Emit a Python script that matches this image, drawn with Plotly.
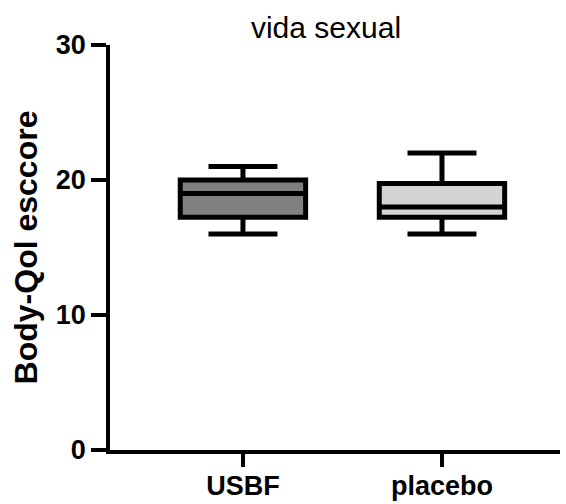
import plotly.graph_objects as go

categories = ["USBF", "placebo"]
lower_whisker = [16, 16]
q1_values = [17.25, 17.25]
median_values = [19, 18]
q3_values = [20, 19.75]
upper_whisker = [21, 22]
fill_colors = ["#808080", "#d4d4d4"]
y_ticks = [0, 10, 20, 30]

FONT = "Arial, Liberation Sans, sans-serif"

fig = go.Figure()
for i, cat in enumerate(categories):
    fig.add_trace(go.Box(
        x=[cat],
        q1=[q1_values[i]], median=[median_values[i]], q3=[q3_values[i]],
        lowerfence=[lower_whisker[i]], upperfence=[upper_whisker[i]],
        fillcolor=fill_colors[i],
        line=dict(color="black", width=5),
        width=0.63,
        whiskerwidth=0.55,
        boxpoints=False,
        showlegend=False,
        hoverinfo="skip",
    ))

fig.update_layout(
    width=566, height=504,
    margin=dict(l=110, r=6, t=45, b=54, autoexpand=False),
    plot_bgcolor="white", paper_bgcolor="white",
    title=dict(text="vida sexual", x=326 / 566, xanchor="center",
               y=1 - 27 / 504, yanchor="middle",
               font=dict(family=FONT, size=30, color="black")),
    xaxis=dict(
        type="category", range=[-0.668, 1.593], automargin=False,
        showline=True, linecolor="black", linewidth=3.5,
        ticks="outside", ticklen=13, tickwidth=3.5, tickcolor="black",
        ticklabelstandoff=-4,
        tickfont=dict(family=FONT, size=27, color="black", weight="bold"),
        showgrid=False, zeroline=False,
    ),
    yaxis=dict(
        range=[0, 30], tickvals=y_ticks, automargin=False,
        showline=True, linecolor="black", linewidth=3.5,
        ticks="outside", ticklen=15, tickwidth=3.5, tickcolor="black",
        tickfont=dict(family=FONT, size=27, color="black", weight="bold"),
        showgrid=False, zeroline=False,
        title=dict(text="Body-Qol esccore", standoff=10,
                   font=dict(family=FONT, size=32, color="black", weight="bold")),
    ),
)

fig.write_html(
    "out.html",
    config={"displayModeBar": False},
    post_script="document.body.style.margin='0';document.body.style.overflow='hidden';",
)
